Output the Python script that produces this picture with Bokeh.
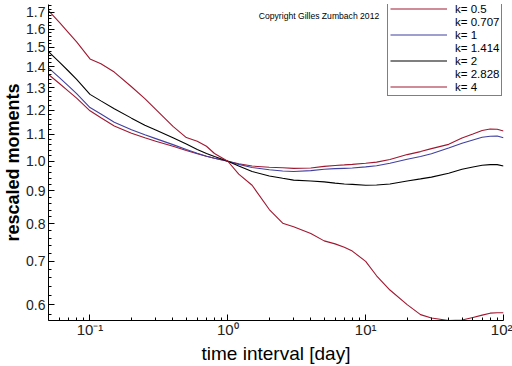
from bokeh.plotting import figure
from bokeh.models import FixedTicker, Legend, LegendItem, Label, PrintfTickFormatter
from bokeh.embed import file_html
from bokeh.resources import INLINE

# ---- data ----
t = [0.05, 0.06, 0.07, 0.08, 0.1, 0.12, 0.15, 0.2, 0.25, 0.3, 0.4, 0.5, 0.6, 0.7, 0.8,
     1.0, 1.2, 1.5, 2, 2.5, 3, 4, 5, 6, 7, 8, 10, 12, 15, 20, 25, 30, 40, 50, 60, 70, 80, 90, 100]

k4 = [1.71, 1.64, 1.58, 1.53, 1.44, 1.415, 1.374, 1.304, 1.25, 1.203, 1.132, 1.088, 1.074, 1.055, 1.028,
      1.0, 0.955, 0.918, 0.842, 0.802, 0.792, 0.773, 0.753, 0.745, 0.736, 0.726, 0.70, 0.665, 0.632,
      0.600, 0.579, 0.572, 0.567, 0.568, 0.573, 0.578, 0.582, 0.583, 0.583]

k2 = [1.478, 1.424, 1.378, 1.339, 1.269, 1.24, 1.206, 1.166, 1.137, 1.118, 1.087, 1.063, 1.043, 1.028, 1.017,
      1.0, 0.983, 0.964, 0.949, 0.941, 0.935, 0.932, 0.929, 0.925, 0.922, 0.921, 0.918, 0.919, 0.922,
      0.932, 0.939, 0.945, 0.958, 0.972, 0.980, 0.986, 0.988, 0.988, 0.983]

k1 = [1.395, 1.347, 1.307, 1.272, 1.211, 1.183, 1.149, 1.119, 1.099, 1.084, 1.061, 1.043, 1.029, 1.018, 1.011,
      1.0, 0.989, 0.978, 0.970, 0.966, 0.964, 0.967, 0.972, 0.974, 0.975, 0.976, 0.980, 0.984, 0.993,
      1.007, 1.017, 1.027, 1.048, 1.066, 1.079, 1.089, 1.093, 1.094, 1.087]

k05 = [1.362, 1.319, 1.283, 1.252, 1.197, 1.168, 1.134, 1.105, 1.087, 1.074, 1.055, 1.039, 1.027, 1.018, 1.011,
       1.0, 0.991, 0.983, 0.979, 0.977, 0.975, 0.976, 0.982, 0.985, 0.987, 0.989, 0.993, 0.997, 1.006,
       1.024, 1.035, 1.046, 1.062, 1.086, 1.102, 1.116, 1.122, 1.121, 1.114]

# series not visible in the picture (only in the legend)
k0707 = []
k1414 = []
k2828 = []

legend_labels = ["k= 0.5", "k= 0.707", "k= 1", "k= 1.414", "k= 2", "k= 2.828", "k= 4"]
colors = ["#a01830", "#30b030", "#4040a0", "#40e0e0", "#000000", "#d040c0", "#a01830"]

x_major = [0.1, 1, 10, 100]
x_labels = ["10\u207b\u00b9", "10\u2070", "10\u00b9", "10\u00b2"]
y_major = [0.6, 0.7, 0.8, 0.9, 1.0, 1.1, 1.2, 1.3, 1.4, 1.5, 1.6, 1.7]

x_title = "time interval [day]"
y_title = "rescaled moments"

# ---- figure ----
FONT = "Liberation Sans"
p = figure(width=512, height=366, x_axis_type="log", y_axis_type="log",
           x_range=(0.05, 100), y_range=(0.567, 1.748),
           output_backend="svg", toolbar_location=None,
           min_border_left=46, min_border_right=9, min_border_top=4, min_border_bottom=42,
           background_fill_color="white", border_fill_color="white")
p.outline_line_color = None
p.xgrid.visible = False
p.ygrid.visible = False

series = [(t, k05), ([], k0707), (t, k1), ([], k1414), (t, k2), ([], k2828), (t, k4)]
renderers = []
for (xs, ys), c in zip(series, colors):
    r = p.line(x=xs if ys else [], y=ys, line_color=c, line_width=1.1)
    renderers.append(r)

# ticks
x_minor = []
for dec in [0.01, 0.1, 1, 10]:
    for m in range(2, 10):
        v = m * dec
        if 0.05 <= v <= 100:
            x_minor.append(v)
y_minor = [round(0.56 + 0.02 * i, 2) for i in range(0, 60)]
y_minor = [v for v in y_minor if 0.567 <= v <= 1.748 and round(v * 10, 6) != round(v * 10)]

xa = p.xaxis[0]
xa.ticker = FixedTicker(ticks=x_major, minor_ticks=x_minor)
xa.major_label_overrides = {v: s for v, s in zip(x_major, x_labels)}
xa.axis_label = x_title
ya = p.yaxis[0]
ya.ticker = FixedTicker(ticks=y_major, minor_ticks=y_minor)
ya.formatter = PrintfTickFormatter(format="%.1f")
ya.axis_label = y_title

for ax in (xa, ya):
    ax.axis_line_color = "black"
    ax.axis_line_width = 1
    ax.major_tick_in = 6
    ax.major_tick_out = 0
    ax.minor_tick_in = 3
    ax.minor_tick_out = 0
    ax.major_tick_line_color = "black"
    ax.minor_tick_line_color = "black"
    ax.major_label_text_color = "#222222"
    ax.major_label_text_font = FONT
    ax.axis_label_text_color = "black"
    ax.axis_label_text_font = FONT

xa.major_label_text_font_size = "15px"
xa.major_label_standoff = 0
xa.axis_label_text_font_size = "19px"
xa.axis_label_text_font_style = "normal"
xa.axis_label_standoff = 2

ya.major_label_text_font_size = "14px"
ya.major_label_standoff = 3
ya.axis_label_text_font_size = "18px"
ya.axis_label_text_font_style = "bold"
ya.axis_label_standoff = 0

legend = Legend(items=[LegendItem(label=l, renderers=[r]) for l, r in zip(legend_labels, renderers)],
                location=(339, 224), orientation="vertical",
                padding=2, spacing=0, margin=0,
                glyph_width=57, glyph_height=13, label_height=13, label_standoff=8,
                label_text_font=FONT, label_text_font_size="11.5px", label_text_color="black",
                border_line_color="black", border_line_width=1,
                background_fill_color="white", background_fill_alpha=1.0)
p.add_layout(legend, "center")

p.add_layout(Label(x=1.678, y=1.676, text="Copyright Gilles Zumbach 2012",
                   text_font=FONT, text_font_size="8.6px", text_baseline="middle",
                   text_color="black"))

open("out.html", "w").write(file_html(p, INLINE))
